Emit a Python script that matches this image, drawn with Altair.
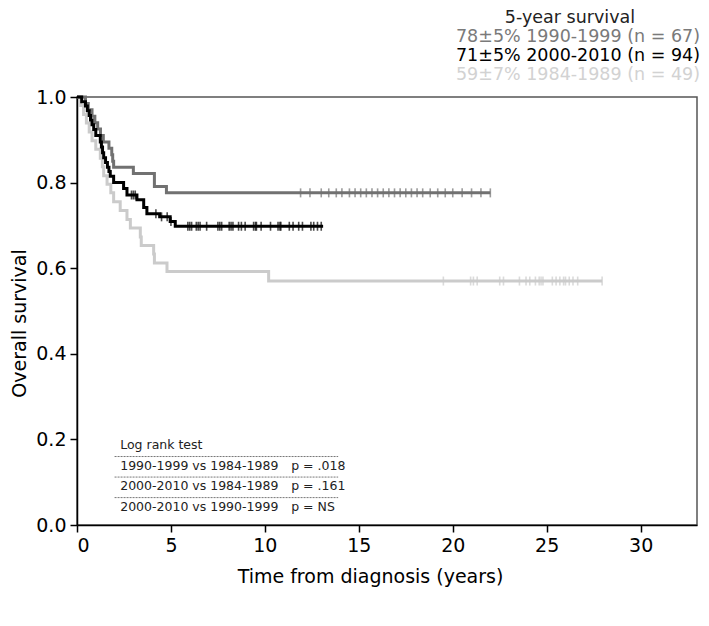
import altair as alt
import pandas as pd

# ---------------- data ----------------
groups = ["1984-1989", "1990-1999", "2000-2010"]
colors = ["#cbcbcb", "#717171", "#000000"]

# Kaplan-Meier step points (time in years, survival)
t_8489 = [0, 0.2, 0.35, 0.5, 0.65, 0.8, 1.0, 1.24, 1.35, 1.42, 1.6, 1.8, 1.95,
          2.3, 2.66, 2.84, 3.37, 3.42, 4.08, 4.12, 4.79, 10.2, 27.95]
s_8489 = [1.0, 0.980, 0.959, 0.939, 0.918, 0.898, 0.878, 0.857, 0.837, 0.816,
          0.796, 0.776, 0.755, 0.735, 0.714, 0.694, 0.673, 0.653, 0.633, 0.612,
          0.592, 0.570, 0.570]
c_8489 = [19.5, 20.95, 21.1, 21.3, 22.5, 22.7, 23.55, 23.9, 24.1, 24.4, 24.6,
          24.7, 24.8, 25.3, 25.5, 25.7, 25.9, 26.0, 26.2, 26.4, 26.65, 27.95]

t_9099 = [0, 0.45, 0.6, 0.8, 0.95, 1.1, 1.25, 1.4, 1.7, 1.85, 1.9, 1.95, 3.0,
          4.12, 4.76, 22.0]
s_9099 = [1.0, 0.985, 0.970, 0.955, 0.940, 0.925, 0.910, 0.895, 0.880, 0.865,
          0.850, 0.836, 0.821, 0.791, 0.776, 0.776]
c_9099 = [11.9, 12.4, 13.0, 13.4, 13.8, 14.1, 14.5, 14.8, 15.1, 15.4, 15.7,
          16.0, 16.3, 16.6, 16.9, 17.2, 17.5, 17.8, 18.1, 18.4, 18.8, 19.2,
          19.6, 20.0, 20.5, 21.0, 21.5, 22.0]

t_0010 = [0, 0.25, 0.45, 0.55, 0.65, 0.72, 0.80, 0.89, 1.0, 1.24, 1.30, 1.36,
          1.42, 1.52, 1.62, 1.70, 1.77, 1.95, 2.48, 2.66, 3.19, 3.55, 3.72,
          4.4, 4.96, 5.23, 13.1]
s_0010 = [1.0, 0.989, 0.979, 0.968, 0.957, 0.946, 0.935, 0.924, 0.910, 0.895,
          0.883, 0.870, 0.858, 0.847, 0.836, 0.826, 0.815, 0.800, 0.786, 0.771,
          0.760, 0.742, 0.727, 0.720, 0.709, 0.698, 0.698]
c_0010 = [2.9, 3.0, 3.1, 4.2, 4.5, 4.8, 5.0, 5.9, 6.0, 6.1, 6.35, 6.45, 6.55,
          6.9, 7.5, 7.6, 7.7, 8.1, 8.2, 8.3, 8.6, 8.75, 8.95, 9.4, 9.5, 9.55,
          9.8, 10.3, 10.7, 10.8, 10.85, 11.3, 11.5, 11.8, 12.0, 12.45, 12.6,
          12.8, 13.0]

legend_title = "5-year survival"
legend_lines = ["78±5% 1990-1999 (n = 67)", "71±5% 2000-2010 (n = 94)",
                "59±7% 1984-1989 (n = 49)"]
legend_colors = ["#7a7a7a", "#000000", "#d2d2d2"]

table_title = "Log rank test"
comparisons = ["1990-1999 vs 1984-1989", "2000-2010 vs 1984-1989",
               "2000-2010 vs 1990-1999"]
p_values = ["p = .018", "p = .161", "p = NS"]

FONT = "DejaVu Sans"


def level(ts, ss, c):
    v = ss[0]
    for t, s in zip(ts, ss):
        if t <= c:
            v = s
    return v


curve_rows, cens_rows = [], []
for g, ts, ss, cs in [(groups[0], t_8489, s_8489, c_8489),
                      (groups[1], t_9099, s_9099, c_9099),
                      (groups[2], t_0010, s_0010, c_0010)]:
    for t, s in zip(ts, ss):
        curve_rows.append({"t": t, "s": s, "g": g})
    for c in cs:
        cens_rows.append({"t": c, "s": level(ts, ss, c), "g": g})
curves = pd.DataFrame(curve_rows)
cens = pd.DataFrame(cens_rows)

x_scale = alt.Scale(domain=[0, 33], nice=False, zero=False)
y_scale = alt.Scale(domain=[0, 1], nice=False)
x_axis = alt.Axis(values=[0, 5, 10, 15, 20, 25, 30], title="Time from diagnosis (years)",
                  titlePadding=12, titleX=293)
y_axis = alt.Axis(values=[0, 0.2, 0.4, 0.6, 0.8, 1.0], format=".1f",
                  title="Overall survival", titlePadding=6, titleY=226)
X = alt.X("t:Q", scale=x_scale, axis=x_axis)
Y = alt.Y("s:Q", scale=y_scale, axis=y_axis)
color = alt.Color("g:N", scale=alt.Scale(domain=groups, range=colors), legend=None)

lines = alt.Chart(curves).mark_line(interpolate="step-after", strokeWidth=3).encode(
    x=X, y=Y, color=color, detail="g:N",
    order=alt.Order("t:Q"))
ticks = alt.Chart(cens).mark_tick(orient="vertical", size=9, thickness=1.6).encode(
    x=X, y=Y, color=color)

# log rank table (placed in data coordinates)
row_y = [0.138, 0.090, 0.042]
line_y = [0.160, 0.112, 0.064]
tab = pd.DataFrame({"t": [2.3] * 3, "tp": [11.4] * 3, "s": row_y,
                    "lab": comparisons, "p": p_values})
txt = dict(align="left", baseline="middle", fontSize=12.5, font=FONT, color="#222")
tab_head = alt.Chart(pd.DataFrame({"t": [2.3], "s": [0.187], "lab": [table_title]})).mark_text(
    **txt).encode(x=X, y=Y, text="lab:N")
tab_rows = alt.Chart(tab).mark_text(**txt).encode(x=X, y=Y, text="lab:N")
tab_p = alt.Chart(tab).mark_text(**txt).encode(
    x=alt.X("tp:Q", scale=x_scale, axis=x_axis), y=Y, text="p:N")
rules = alt.Chart(pd.DataFrame({"t": [2.0] * 3, "t2": [13.9] * 3, "s": line_y})).mark_rule(
    strokeDash=[2, 1], color="#777", strokeWidth=1).encode(x=X, x2="t2:Q", y=Y)

# legend text above the plot
leg = [alt.Chart(pd.DataFrame({"lab": [legend_title]})).mark_text(
    align="center", baseline="middle", fontSize=17.5, font=FONT, color="#222").encode(
    x=alt.value(493), y=alt.value(-79), text="lab:N")]
for i, (lab, col) in enumerate(zip(legend_lines, legend_colors)):
    leg.append(alt.Chart(pd.DataFrame({"lab": [lab]})).mark_text(
        align="right", baseline="middle", fontSize=17.5, font=FONT, color=col).encode(
        x=alt.value(623), y=alt.value(-60 + 19 * i), text="lab:N"))

chart = alt.layer(lines, ticks, rules, tab_head, tab_rows, tab_p, *leg).properties(
    width=620, height=428,
    autosize=alt.AutoSizeParams(type="none"),
    padding={"left": 69, "top": 89, "right": 4, "bottom": 95},
).configure_view(stroke="#555", strokeWidth=1.5).configure_axis(
    grid=False, domainColor="#000", domainWidth=1.5, tickColor="#000", tickWidth=1.5,
    tickSize=7, labelFontSize=19, titleFontSize=19, labelFont=FONT, titleFont=FONT,
    labelColor="#000", titleColor="#000", titleFontWeight="normal", labelPadding=4,
).configure_text(font=FONT)

chart.save("out.html", embed_options={"renderer": "svg", "actions": False})
